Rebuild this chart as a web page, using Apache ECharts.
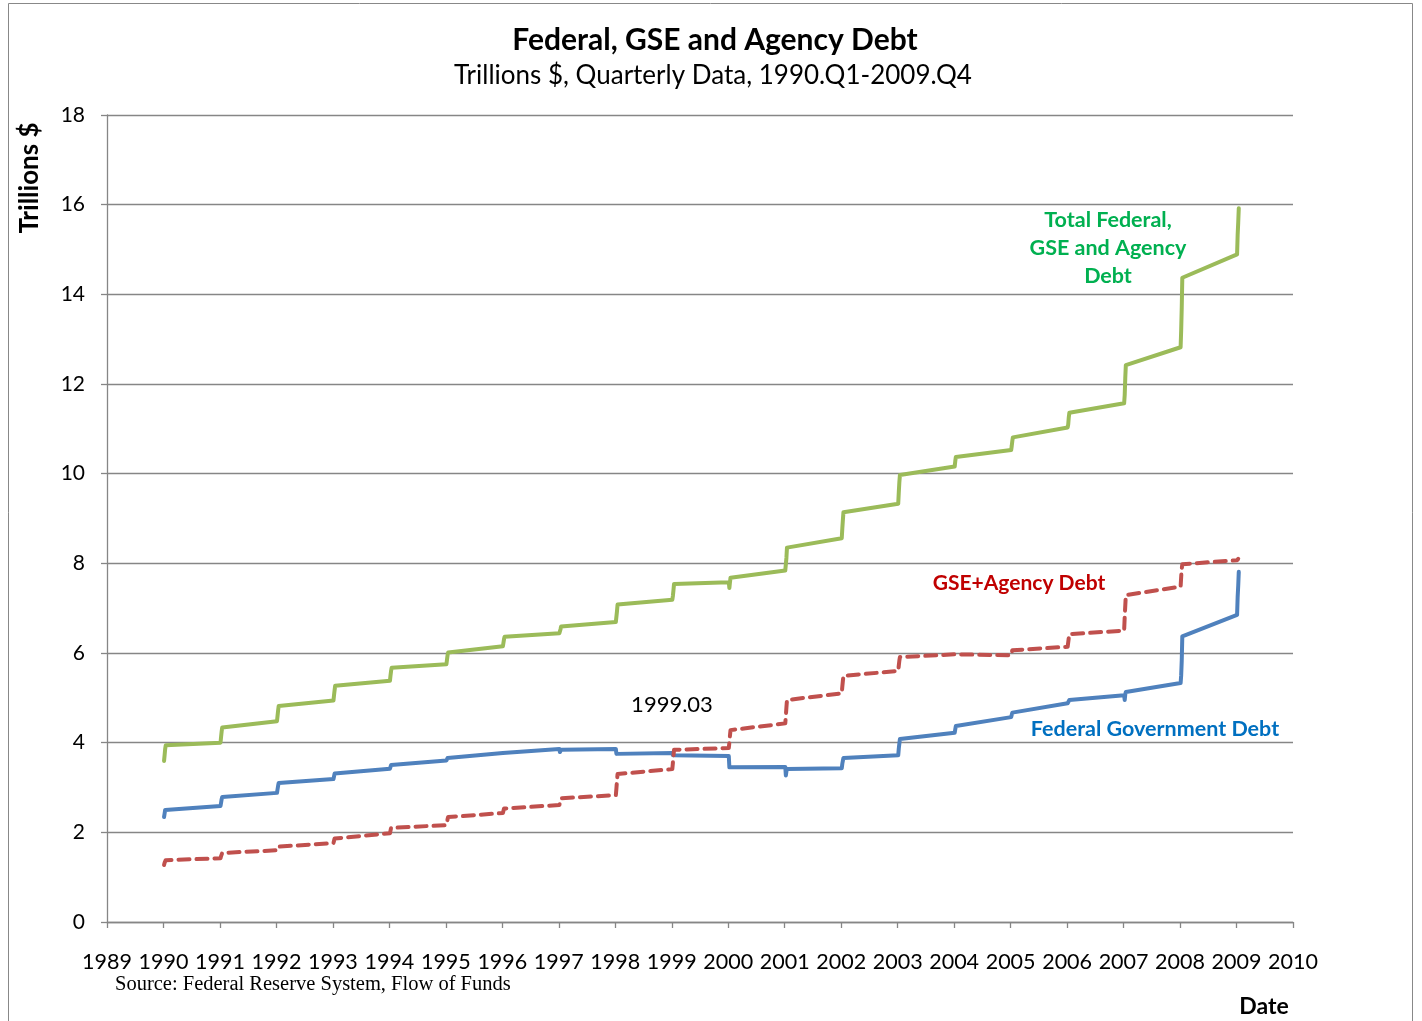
<!DOCTYPE html>
<html><head><meta charset="utf-8">
<script src="https://cdn.jsdelivr.net/npm/echarts@6/dist/echarts.min.js"></script>
<style>html,body{margin:0;padding:0;background:#fff}#c{width:1422px;height:1021px}</style>
</head><body><div id="c"></div>
<script>
// Quarterly data, 1990.Q1 - 2009.Q4 (trillions $), plotted at x = year + quarter/100
const years = [1990,1991,1992,1993,1994,1995,1996,1997,1998,1999,2000,2001,2002,2003,2004,2005,2006,2007,2008,2009];
const quarters = [1,2,3,4];

const federalDebt = [
  2.34,2.42,2.50,2.54,  2.59,2.66,2.74,2.79,  2.88,2.96,3.04,3.10,  3.19,3.25,3.31,3.35,
  3.42,3.46,3.50,3.53,  3.60,3.63,3.66,3.68,  3.77,3.75,3.78,3.80,  3.86,3.79,3.82,3.84,
  3.86,3.75,3.78,3.79,  3.77,3.72,3.70,3.69,  3.70,3.45,3.42,3.41,  3.46,3.27,3.36,3.41,
  3.43,3.53,3.60,3.66,  3.72,3.87,3.98,4.08,  4.22,4.30,4.37,4.41,  4.57,4.61,4.67,4.71,
  4.88,4.86,4.92,4.95,  5.06,4.95,5.08,5.13,  5.33,5.50,5.83,6.37,  6.85,7.25,7.50,7.81
];
const gseAgencyDebt = [
  1.27,1.32,1.36,1.38,  1.42,1.47,1.51,1.54,  1.60,1.64,1.68,1.71,  1.76,1.81,1.86,1.90,
  1.98,2.04,2.10,2.14,  2.16,2.22,2.29,2.34,  2.43,2.48,2.53,2.57,  2.61,2.66,2.71,2.76,
  2.83,2.98,3.15,3.30,  3.41,3.55,3.70,3.84,  3.88,4.00,4.15,4.28,  4.43,4.60,4.78,4.95,
  5.10,5.25,5.38,5.49,  5.60,5.72,5.83,5.91,  5.97,5.98,6.00,6.00,  5.95,6.01,6.06,6.10,
  6.14,6.24,6.34,6.42,  6.50,6.80,7.05,7.29,  7.48,7.70,7.88,7.98,  8.07,8.08,8.10,8.10
];
const totalDebt = [
  3.59,3.72,3.86,3.94,  4.00,4.13,4.25,4.34,  4.48,4.60,4.72,4.82,  4.94,5.06,5.17,5.27,
  5.38,5.50,5.60,5.67,  5.75,5.85,5.95,6.01,  6.15,6.23,6.31,6.36,  6.44,6.45,6.53,6.59,
  6.69,6.73,6.93,7.08,  7.19,7.27,7.40,7.54,  7.58,7.45,7.57,7.68,  7.84,7.85,8.12,8.35,
  8.56,8.78,8.97,9.14,  9.33,9.59,9.81,9.97,  10.16,10.28,10.37,10.41,  10.53,10.62,10.73,10.81,
  11.03,11.10,11.26,11.36,  11.57,11.75,12.13,12.42,  12.82,13.20,13.71,14.37,  14.89,15.33,15.60,15.92
];
const xAxisRange = [1989, 2010];
const yAxisRange = [0, 18];
const yTickStep = 2;

function toPoints(vals) {
  const pts = [];
  years.forEach((y, i) => quarters.forEach((q, j) => pts.push([+(y + q / 100).toFixed(2), vals[i * 4 + j]])));
  return pts;
}

const FONT = 'Lato, "Open Sans", sans-serif';
const chart = echarts.init(document.getElementById('c'), null, { renderer: 'canvas' });
const gray = '#868686';

function lineSeries(name, vals, color, dashed) {
  return {
    name, type: 'line', data: toPoints(vals), showSymbol: false, symbol: 'none',
    smooth: false, animation: false,
    lineStyle: { color, width: 4, type: dashed ? [11, 7] : 'solid', cap: 'round', join: 'round' }
  };
}

chart.setOption({
  animation: false,
  backgroundColor: '#fff',
  title: [
    { text: 'Federal, GSE and Agency Debt', left: 710, top: 20, textAlign: 'center',
      textStyle: { fontFamily: FONT, fontWeight: 'bold', fontSize: 30, color: '#000' } },
    { text: 'Trillions $, Quarterly Data, 1990.Q1-2009.Q4', left: 708, top: 58, textAlign: 'center',
      textStyle: { fontFamily: FONT, fontWeight: 'normal', fontSize: 26, color: '#000' } }
  ],
  grid: { left: 107, right: 129, top: 115, bottom: 99, containLabel: false },
  xAxis: {
    type: 'value', min: xAxisRange[0], max: xAxisRange[1], interval: 1,
    axisLine: { show: true, lineStyle: { color: gray, width: 1.3 } },
    axisTick: { show: true, inside: false, length: 6, lineStyle: { color: gray, width: 1.3 } },
    axisLabel: { margin: 29, fontFamily: FONT, fontSize: 21.5, color: '#000', formatter: v => String(Math.round(v)) },
    splitLine: { show: false }
  },
  yAxis: {
    type: 'value', min: yAxisRange[0], max: yAxisRange[1], interval: yTickStep,
    axisLine: { show: true, lineStyle: { color: gray, width: 1.3 } },
    axisTick: { show: true, inside: false, length: 6, lineStyle: { color: gray, width: 1.3 } },
    axisLabel: { margin: 22, fontFamily: FONT, fontSize: 21, color: '#000' },
    splitLine: { show: true, lineStyle: { color: gray, width: 1.3 } }
  },
  series: [
    lineSeries('Federal Government Debt', federalDebt, '#4F81BD', false),
    lineSeries('GSE+Agency Debt', gseAgencyDebt, '#C0504D', true),
    lineSeries('Total Federal, GSE and Agency Debt', totalDebt, '#9BBB59', false)
  ],
  graphic: [
    { type: 'rect', shape: { x: 8.5, y: 3.5, width: 1404, height: 1040 }, style: { fill: 'none', stroke: '#888', lineWidth: 1 }, silent: true },
    { type: 'text', x: 30, y: 178, rotation: Math.PI / 2, style: { text: 'Trillions $', font: 'bold 26px ' + FONT, fill: '#000', align: 'center', verticalAlign: 'middle' } },
    { type: 'text', x: 1108, y: 248, style: { text: 'Total Federal,\nGSE and Agency\nDebt', font: 'bold 21.5px ' + FONT, lineHeight: 28, fill: '#00B050', align: 'center', verticalAlign: 'middle' } },
    { type: 'text', x: 1019, y: 583, style: { text: 'GSE+Agency Debt', font: 'bold 21px ' + FONT, fill: '#C00000', align: 'center', verticalAlign: 'middle' } },
    { type: 'text', x: 1155, y: 729, style: { text: 'Federal Government Debt', font: 'bold 21.5px ' + FONT, fill: '#0070C0', align: 'center', verticalAlign: 'middle' } },
    { type: 'text', x: 672, y: 705, style: { text: '1999.03', font: '22px ' + FONT, fill: '#000', align: 'center', verticalAlign: 'middle' } },
    { type: 'text', x: 115, y: 985, style: { text: 'Source: Federal Reserve System, Flow of Funds', font: '20.5px "Liberation Serif", "Times New Roman", serif', fill: '#000', align: 'left', verticalAlign: 'middle' } },
    { type: 'text', x: 1264, y: 1007, style: { text: 'Date', font: 'bold 23px ' + FONT, fill: '#000', align: 'center', verticalAlign: 'middle' } }
  ]
});
</script></body></html>
